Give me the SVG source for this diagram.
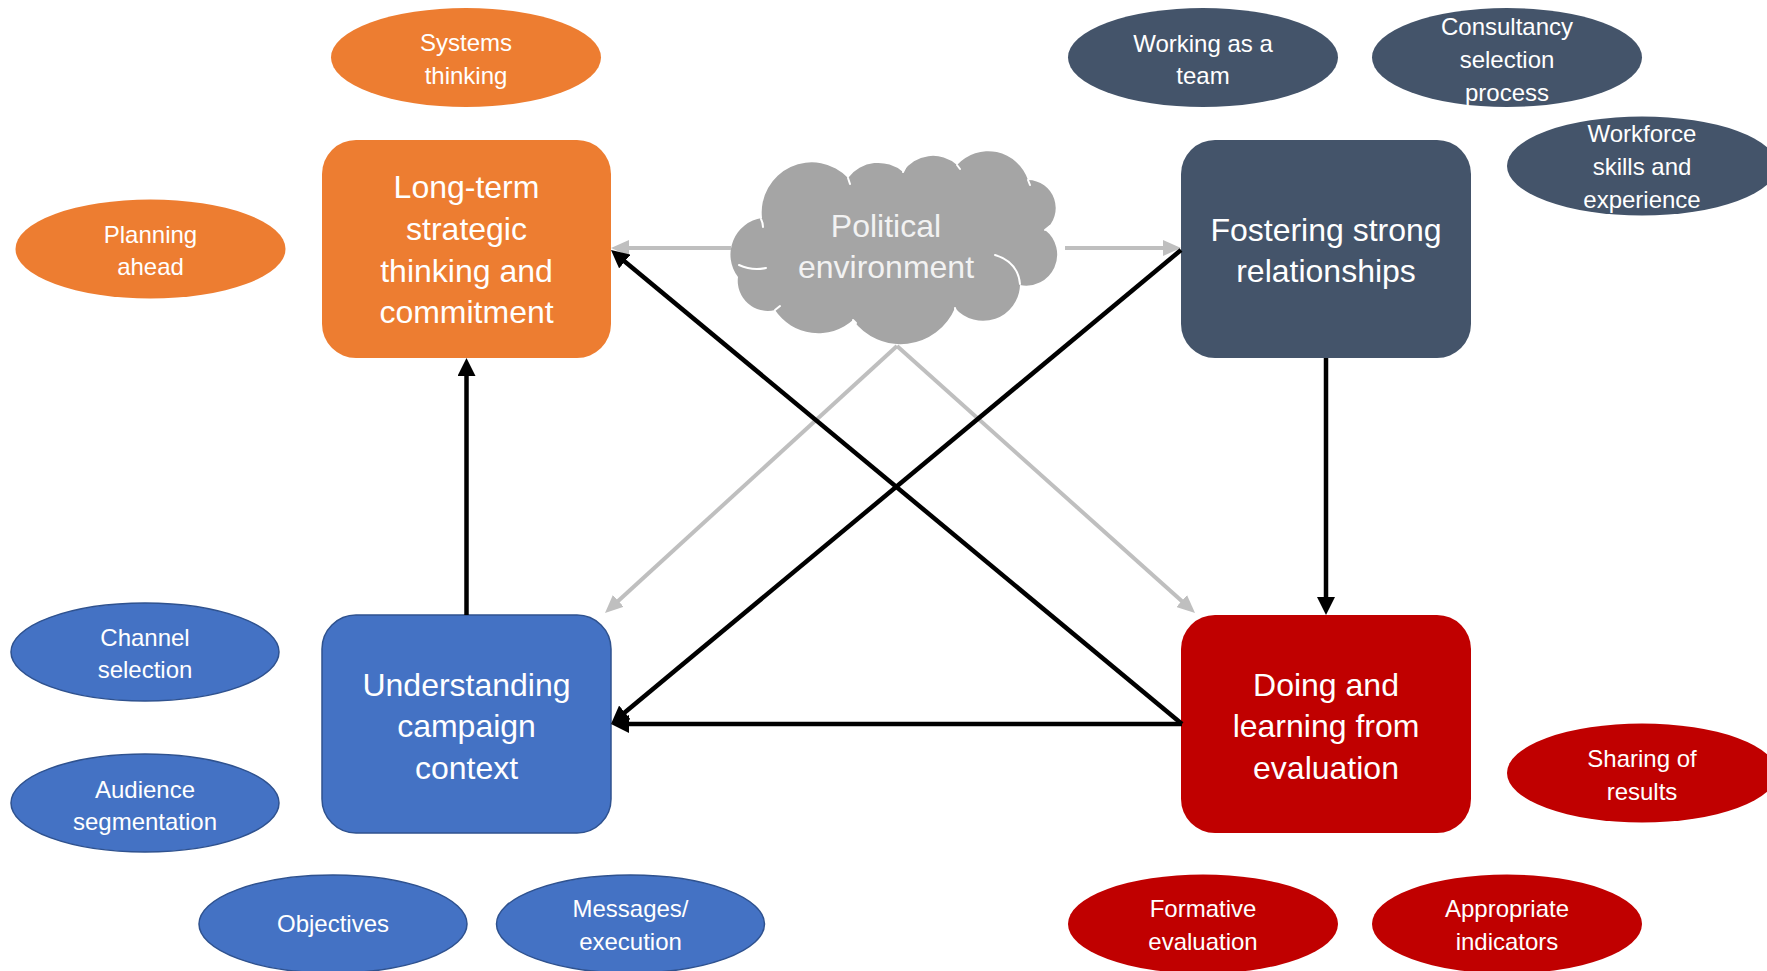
<svg xmlns="http://www.w3.org/2000/svg" width="1767" height="971" viewBox="0 0 1767 971">
<style>
  text { font-family: "Liberation Sans", Arial, sans-serif; fill: #FFFFFF; text-anchor: middle; }
  .bt { font-size: 32px; }
  .et { font-size: 24px; }
  .ct { font-size: 32px; fill: #F2F2F2; }
  .orange { fill: #ED7D31; }
  .slate { fill: #44546A; }
  .blue { fill: #4472C4; stroke: #2F528F; stroke-width: 1.5; }
  .red { fill: #C00000; }
  .blk { stroke: #000000; stroke-width: 4.5; fill: none; marker-end: url(#ahB); }
  .gry { stroke: #BFBFBF; stroke-width: 4; fill: none; marker-end: url(#ahG); }
  .notch { stroke: #FFFFFF; stroke-width: 2; fill: none; stroke-linecap: round; }
</style>
<defs>
  <marker id="ahB" markerUnits="userSpaceOnUse" markerWidth="18" markerHeight="18" viewBox="0 0 18 18" refX="8" refY="9" orient="auto">
    <path d="M0,0 L18,9 L0,18 Z" fill="#000000"/>
  </marker>
  <marker id="ahG" markerUnits="userSpaceOnUse" markerWidth="18" markerHeight="16" viewBox="0 0 18 16" refX="8" refY="8" orient="auto">
    <path d="M0,0 L18,8 L0,16 Z" fill="#BFBFBF"/>
  </marker>
</defs>
<rect width="1767" height="971" fill="#FFFFFF"/>

<!-- Main nodes -->
<g id="node-longterm">
  <rect class="orange" x="322" y="140" width="289" height="218" rx="34" ry="34"/>
  <text class="bt" x="466.5" y="198">Long-term</text>
  <text class="bt" x="466.5" y="239.5">strategic</text>
  <text class="bt" x="466.5" y="281.5">thinking and</text>
  <text class="bt" x="466.5" y="323">commitment</text>
</g>
<g id="node-fostering">
  <rect class="slate" x="1181" y="140" width="290" height="218" rx="34" ry="34"/>
  <text class="bt" x="1326" y="240.5">Fostering strong</text>
  <text class="bt" x="1326" y="282">relationships</text>
</g>
<g id="node-understanding">
  <rect class="blue" x="322" y="615" width="289" height="218" rx="34" ry="34"/>
  <text class="bt" x="466.5" y="695.5">Understanding</text>
  <text class="bt" x="466.5" y="737">campaign</text>
  <text class="bt" x="466.5" y="778.5">context</text>
</g>
<g id="node-doing">
  <rect class="red" x="1181" y="615" width="290" height="218" rx="34" ry="34"/>
  <text class="bt" x="1326" y="695.5">Doing and</text>
  <text class="bt" x="1326" y="737">learning from</text>
  <text class="bt" x="1326" y="778.5">evaluation</text>
</g>

<!-- Political environment cloud -->
<g id="node-political">
  <path fill="#A5A5A5" d="M 762 218 A 50 50 0 0 1 848 178 A 38 38 0 0 1 903 172 A 36 36 0 0 1 957 165 A 42 42 0 0 1 1028 180 A 28 28 0 0 1 1045 230 A 31 31 0 0 1 1020 285 A 37 37 0 0 1 955 308 A 59 59 0 0 1 853 320 A 52 52 0 0 1 775 310 A 30 30 0 0 1 738 277 A 37 37 0 0 1 762 218 Z"/>
  <path class="notch" d="M 739 265 Q 752 271 766 268"/>
  <path class="notch" d="M 995 255 Q 1018 262 1020 284"/>
  <path class="notch" d="M 761 219 Q 763 223 763 227"/>
  <path class="notch" d="M 848 178 L 850 184"/>
  <path class="notch" d="M 903 172 L 905 168"/>
  <path class="notch" d="M 957 165 L 960 169"/>
  <path class="notch" d="M 1028 180 L 1030 185"/>
  <path class="notch" d="M 1045 230 L 1050 226"/>
  <path class="notch" d="M 955 308 L 956 312"/>
  <path class="notch" d="M 853 320 L 856 323"/>
  <path class="notch" d="M 775 310 L 780 306"/>
  <text class="ct" x="886" y="236.5">Political</text>
  <text class="ct" x="886" y="277.5">environment</text>
</g>

<!-- Satellite ellipses: orange -->
<g id="node-systems">
  <ellipse class="orange" cx="466" cy="57.5" rx="135" ry="49.5"/>
  <text class="et" x="466" y="51">Systems</text>
  <text class="et" x="466" y="84">thinking</text>
</g>
<g id="node-planning">
  <ellipse class="orange" cx="150.5" cy="249" rx="135" ry="49.5"/>
  <text class="et" x="150.5" y="243">Planning</text>
  <text class="et" x="150.5" y="275">ahead</text>
</g>

<!-- Satellite ellipses: slate -->
<g id="node-team">
  <ellipse class="slate" cx="1203" cy="57.5" rx="135" ry="49.5"/>
  <text class="et" x="1203" y="51.5">Working as a</text>
  <text class="et" x="1203" y="84">team</text>
</g>
<g id="node-consultancy">
  <ellipse class="slate" cx="1507" cy="57.5" rx="135" ry="49.5"/>
  <text class="et" x="1507" y="34.5">Consultancy</text>
  <text class="et" x="1507" y="68">selection</text>
  <text class="et" x="1507" y="101">process</text>
</g>
<g id="node-workforce">
  <ellipse class="slate" cx="1642" cy="166" rx="135" ry="49.5"/>
  <text class="et" x="1642" y="141.5">Workforce</text>
  <text class="et" x="1642" y="175">skills and</text>
  <text class="et" x="1642" y="208">experience</text>
</g>

<!-- Satellite ellipses: blue -->
<g id="node-channel">
  <ellipse class="blue" cx="145" cy="652" rx="134" ry="49"/>
  <text class="et" x="145" y="645.5">Channel</text>
  <text class="et" x="145" y="678">selection</text>
</g>
<g id="node-audience">
  <ellipse class="blue" cx="145" cy="803" rx="134" ry="49"/>
  <text class="et" x="145" y="797.5">Audience</text>
  <text class="et" x="145" y="830">segmentation</text>
</g>
<g id="node-objectives">
  <ellipse class="blue" cx="333" cy="924" rx="134" ry="49"/>
  <text class="et" x="333" y="932">Objectives</text>
</g>
<g id="node-messages">
  <ellipse class="blue" cx="630.5" cy="924" rx="134" ry="49"/>
  <text class="et" x="630.5" y="916.5">Messages/</text>
  <text class="et" x="630.5" y="949.5">execution</text>
</g>

<!-- Satellite ellipses: red -->
<g id="node-sharing">
  <ellipse class="red" cx="1642" cy="773" rx="135" ry="49.5"/>
  <text class="et" x="1642" y="767">Sharing of</text>
  <text class="et" x="1642" y="800">results</text>
</g>
<g id="node-formative">
  <ellipse class="red" cx="1203" cy="924" rx="135" ry="49.5"/>
  <text class="et" x="1203" y="916.5">Formative</text>
  <text class="et" x="1203" y="949.5">evaluation</text>
</g>
<g id="node-indicators">
  <ellipse class="red" cx="1507" cy="924" rx="135" ry="49.5"/>
  <text class="et" x="1507" y="916.5">Appropriate</text>
  <text class="et" x="1507" y="949.5">indicators</text>
</g>

<!-- Connectors -->
<g id="connectors">
  <line class="gry" x1="731" y1="248" x2="621" y2="248"/>
  <line class="gry" x1="1065" y1="248" x2="1171" y2="248"/>
  <line class="gry" x1="897" y1="346" x2="612.4" y2="606.3"/>
  <line class="gry" x1="897" y1="346" x2="1187.6" y2="606.3"/>
  <line class="blk" x1="466.5" y1="615" x2="466.5" y2="368"/>
  <line class="blk" x1="1326" y1="358" x2="1326" y2="605"/>
  <line class="blk" x1="1182" y1="724" x2="621" y2="724"/>
  <line class="blk" x1="1182" y1="724" x2="618.7" y2="256.4"/>
  <line class="blk" x1="1181" y1="250" x2="618.7" y2="717.6"/>
</g>
</svg>
